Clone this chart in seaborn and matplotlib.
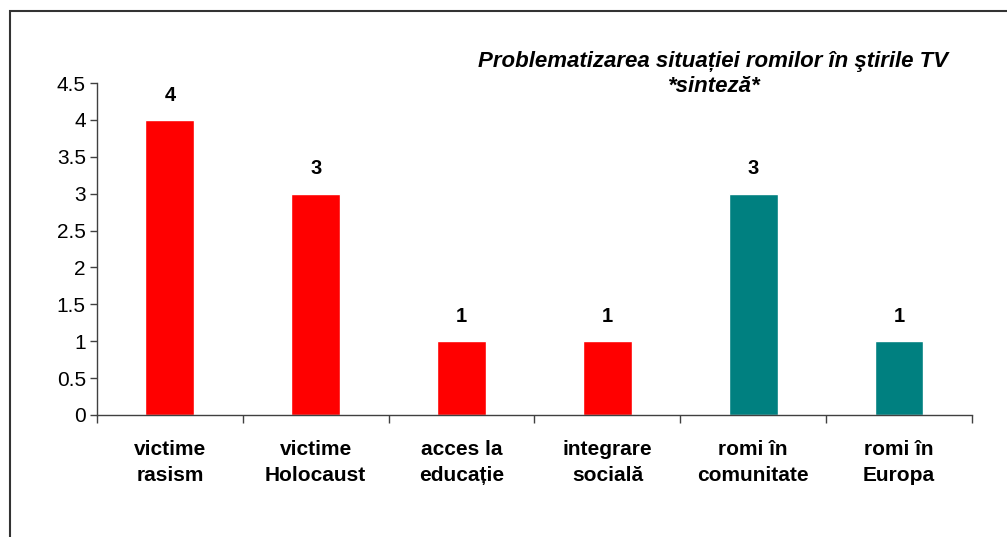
import matplotlib
matplotlib.use("Agg")
import matplotlib.pyplot as plt
import seaborn as sns
import pandas as pd
from matplotlib.patches import Rectangle

categories = ["victime\nrasism", "victime\nHolocaust", "acces la\neducație",
              "integrare\nsocială", "romi în\ncomunitate", "romi în\nEuropa"]
values = [4, 3, 1, 1, 3, 1]
bar_colors = ["#FF0000", "#FF0000", "#FF0000", "#FF0000", "#008080", "#008080"]
y_ticks = [0, 0.5, 1, 1.5, 2, 2.5, 3, 3.5, 4, 4.5]
title = "Problematizarea situației romilor în ştirile TV\n*sinteză*"

sns.set_theme(style="white")
plt.rcParams["font.family"] = ["Liberation Sans", "DejaVu Sans"]
plt.rcParams["text.color"] = "black"
plt.rcParams["xtick.color"] = "black"
plt.rcParams["ytick.color"] = "black"
plt.rcParams["xtick.labelcolor"] = "black"
plt.rcParams["ytick.labelcolor"] = "black"

df = pd.DataFrame({"cat": categories, "val": values})

fig = plt.figure(figsize=(10.07, 5.37), dpi=100)
ax = fig.add_axes([0.0963, 0.2272, 0.8689, 0.6182])

sns.barplot(data=df, x="cat", y="val", hue="cat", palette=bar_colors,
            width=0.335, legend=False, ax=ax, saturation=1)

for c in ax.containers:
    ax.bar_label(c, fmt="%g", padding=11, fontsize=14.5, fontweight="bold", color="black")

ax.set_ylim(0, 4.5)
ax.set_xlim(-0.5, len(categories) - 0.5)
ax.set_yticks(y_ticks)
ax.set_yticklabels([f"{t:g}" for t in y_ticks], fontsize=15)
ax.set_xlabel("")
ax.set_ylabel("")
for lbl in ax.get_xticklabels():
    lbl.set_fontweight("bold")
    lbl.set_fontsize(15)
    lbl.set_linespacing(1.5)

# tick marks at category boundaries
ax.set_xticks([i + 0.5 for i in range(-1, len(categories))], minor=True)
ax.tick_params(axis="x", which="major", length=0, pad=18)
ax.tick_params(axis="x", which="minor", length=6, width=1, color="#404040", direction="out", bottom=True)
ax.tick_params(axis="y", length=5, width=1, color="#404040", direction="out", left=True, pad=3)

for s in ["top", "right"]:
    ax.spines[s].set_visible(False)
for s in ["left", "bottom"]:
    ax.spines[s].set_color("#404040")
    ax.spines[s].set_linewidth(1)

fig.text(0.708, 0.862, title, ha="center", va="center", fontsize=16,
         fontweight="bold", fontstyle="italic", linespacing=1.25, color="black")

# outer chart border (left and top visible)
fig.patches.append(Rectangle((10 / 1007, -0.05), 1.2, 1 - 11 / 537 + 0.05,
                             transform=fig.transFigure, fill=False,
                             edgecolor="#333333", linewidth=1.5))

fig.savefig("out.png", dpi=100)
